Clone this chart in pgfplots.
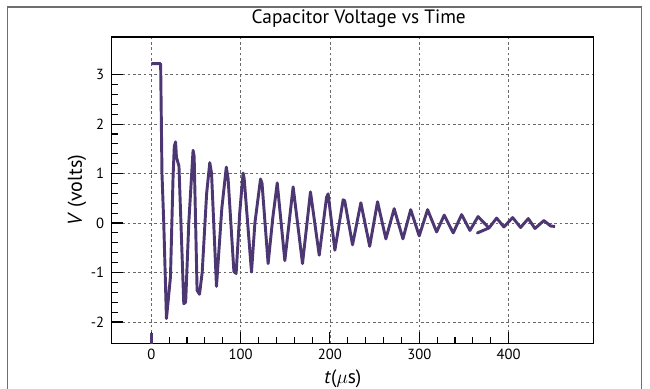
\documentclass[border=0pt]{standalone}
\usepackage{fontspec}
\setmainfont{PT Sans}
\usepackage{pgfplots}
\pgfplotsset{compat=1.18}
\definecolor{curve}{RGB}{76,55,114}
\definecolor{gridc}{RGB}{105,105,105}
\definecolor{framec}{RGB}{110,110,110}
\begin{document}
\begin{tikzpicture}
\useasboundingbox (0pt,0pt) rectangle (487.5pt,291.75pt);
\draw[framec,line width=0.8pt] (5.5pt,-5pt) -- (5.5pt,286.5pt) -- (481pt,286.5pt) -- (481pt,-5pt);
\begin{axis}[
  at={(83.625pt,264pt)}, anchor=north west,
  scale only axis, width=361.5pt, height=229.7pt,
  xmin=-44.5, xmax=495, ymin=-2.43, ymax=3.76,
  xtick={0,100,200,300,400}, ytick={-2,-1,0,1,2,3},
  minor x tick num=4, minor y tick num=4,
  tick align=inside, tick pos=left,
  major tick length=8.5pt, minor tick length=4.5pt,
  every tick/.style={black, line width=0.8pt},
  axis line style={black, line width=1.1pt},
  grid=major,
  major grid style={gridc, dash pattern=on 2pt off 2pt, line width=0.5pt},
  /pgf/number format/assume math mode=true,
  ticklabel style={font=\fontsize{11}{13}\selectfont},
  yticklabel style={xshift=-2pt},
  every axis title shift=0pt,
  title={Capacitor Voltage vs Time},
  title style={font=\fontsize{14.5}{16}\selectfont, at={(axis description cs:0.513,1.059)}, anchor=center},
  xlabel={\textit{t}($\mu$s)},
  xlabel style={font=\fontsize{14.5}{16}\selectfont, at={(axis description cs:0.48,-0.117)}, anchor=center},
  ylabel={\textit{V} (volts)},
  ylabel style={font=\fontsize{15}{17}\selectfont, at={(axis description cs:-0.0716,0.5)}, anchor=center},
  xticklabel style={yshift=-1pt},
  clip=true,
]
\addplot[curve, line width=2.2pt, line join=round, forget plot] coordinates {(0,-2.6) (0,-2.22)};
\addplot[curve, line width=2.2pt, line join=round] coordinates {
(0,3.22) (10.5,3.22) (12,1.0) (14,0) (17,-1.93) (21.5,-1.09) (24.4,0.93) (25.8,1.55) (27.2,1.64)
(28.2,1.33) (31,1.15) (36.4,-1.63) (38.5,-1.6) (42,0) (46.8,1.47) (48,1.35) (51.3,-1.36)
(54,-1.44) (57,-1.0) (62,0.6) (65.5,1.22) (67.5,1.0) (73,-1.28) (79,0.3) (84,1.13) (86,0.9)
(92.5,-0.98) (95,-1.02) (99,0.2) (102.8,1.01) (104,0.9) (112.2,-0.99) (116,0) (122.3,0.89)
(124,0.8) (130.8,-0.82) (136,0.1) (141,0.81) (149.5,-0.76) (158.8,0.73) (169.3,-0.82)
(178.2,0.63) (188,-0.65) (196.2,0.52) (198,0.59) (205.5,-0.55) (214.8,0.47) (216.5,0.45)
(225.3,-0.44) (234.6,0.41) (244.5,-0.47) (253.3,0.43) (262.6,-0.32) (271.9,0.29) (281.7,-0.32)
(290.4,0.27) (299.9,-0.26) (309.3,0.27) (319.4,-0.18) (327.9,0.16) (338,-0.20) (347.4,0.17)
(356.7,-0.15) (365.8,0.13) (378,-0.1) (365,-0.2) (378,-0.1) (386.6,0.10) (394.7,-0.08)
(404.5,0.11) (413.4,-0.09) (422,0.09) (429.5,-0.11) (439.5,0.05) (447,-0.06) (452,-0.07)
};
\end{axis}
\end{tikzpicture}
\end{document}
